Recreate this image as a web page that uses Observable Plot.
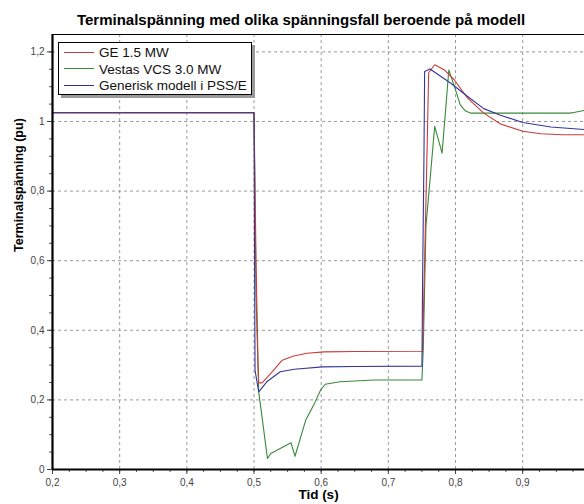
<!DOCTYPE html>
<html>
<head>
<meta charset="utf-8">
<script src="https://cdn.jsdelivr.net/npm/d3@7"></script>
<script src="https://cdn.jsdelivr.net/npm/@observablehq/plot@0.6"></script>
<style>
  html, body { margin: 0; padding: 0; background: #fff; }
  #wrap { position: relative; width: 584px; height: 504px; overflow: hidden; font-family: Arial, "Liberation Sans", sans-serif; }
  #title { position: absolute; left: 0; top: 10px; width: 584px; height: 20px; text-align: center; font-weight: bold; font-size: 15px; line-height: 20px; padding-left: 18px; box-sizing: border-box; color: #000; white-space: nowrap; }
  #chart { position: absolute; left: 0; top: 28px; }
  #legend { position: absolute; left: 58px; top: 42px; width: 192px; height: 51px; border: 1px solid #000; background: #fff; box-shadow: 3px 3px 0 #9a9a9a; font-size: 13.5px; }
  .row { position: absolute; left: 5px; height: 16px; line-height: 16px; white-space: nowrap; color: #111; }
  .sw { display: inline-block; width: 30px; height: 0; border-top: 1px solid; vertical-align: middle; margin-right: 5px; position: relative; top: -1px; }
</style>
</head>
<body>
<div id="wrap">
  <div id="title"></div>
  <div id="chart"></div>
  <div id="legend"></div>
</div>
<script>
const titleText = "Terminalspänning med olika spänningsfall beroende på modell";
const xLabel = "Tid (s)";
const yLabel = "Terminalspänning (pu)";

const seriesNames = ["GE 1.5 MW", "Vestas VCS 3.0 MW", "Generisk modell i PSS/E"];
const seriesColors = ["#cc3b3b", "#3a8a3a", "#35359a"];

const xTicks = [0.2, 0.3, 0.4, 0.5, 0.6, 0.7, 0.8, 0.9];
const yTicks = [0, 0.2, 0.4, 0.6, 0.8, 1.0, 1.2];
const xDomain = [0.2, 0.992];
const yDomain = [0, 1.25];

// GE 1.5 MW (red)
const timeGE = [0.2, 0.5, 0.503, 0.506, 0.507, 0.512, 0.525, 0.542, 0.559, 0.579, 0.604, 0.65, 0.751, 0.754, 0.758, 0.760, 0.769, 0.783, 0.798, 0.818, 0.842, 0.867, 0.9, 0.927, 0.96, 0.992];
const voltGE = [1.025, 1.025, 0.6, 0.3, 0.249, 0.249, 0.276, 0.314, 0.326, 0.334, 0.338, 0.339, 0.340, 0.6, 0.95, 1.14, 1.163, 1.149, 1.12, 1.067, 1.024, 0.993, 0.972, 0.965, 0.962, 0.962];

// Vestas VCS 3.0 MW (green)
const timeVestas = [0.2, 0.5, 0.503, 0.507, 0.520, 0.525, 0.555, 0.561, 0.577, 0.590, 0.599, 0.606, 0.628, 0.679, 0.750, 0.752, 0.756, 0.769, 0.780, 0.790, 0.800, 0.807, 0.815, 0.823, 0.9, 0.97, 0.976, 0.992];
const voltVestas = [1.025, 1.025, 0.5, 0.223, 0.032, 0.046, 0.077, 0.038, 0.142, 0.19, 0.228, 0.245, 0.252, 0.257, 0.257, 0.35, 0.70, 0.986, 0.909, 1.148, 1.091, 1.048, 1.03, 1.024, 1.024, 1.024, 1.026, 1.032];

// Generisk modell i PSS/E (blue)
const timeGen = [0.2, 0.5, 0.5015, 0.507, 0.519, 0.539, 0.56, 0.602, 0.65, 0.750, 0.751, 0.753, 0.754, 0.762, 0.793, 0.818, 0.842, 0.867, 0.9, 0.942, 0.992];
const voltGen = [1.025, 1.025, 0.285, 0.223, 0.252, 0.281, 0.288, 0.295, 0.296, 0.297, 0.55, 0.9, 1.144, 1.151, 1.110, 1.072, 1.037, 1.018, 0.997, 0.984, 0.977];

const minorX = d3.range(0.2, 0.992, 0.025).map(v => +v.toFixed(3));
const minorY = d3.range(0, 1.25, 0.05).map(v => +v.toFixed(2));

const fmt = d => String(+d.toFixed(2)).replace(".", ",");

function toRows(ts, vs, name) { return ts.map((t, i) => ({t, v: vs[i], name})); }
const dataGE = toRows(timeGE, voltGE, seriesNames[0]);
const dataVestas = toRows(timeVestas, voltVestas, seriesNames[1]);
const dataGen = toRows(timeGen, voltGen, seriesNames[2]);

document.getElementById("title").textContent = titleText;

const grid = {stroke: "#9a9a9a", strokeDasharray: "3,3", strokeWidth: 1, strokeOpacity: 1};

const chart = Plot.plot({
  width: 584,
  height: 476,
  marginLeft: 52,
  marginRight: 0,
  marginTop: 6,
  marginBottom: 35,
  style: {fontFamily: "Arial, 'Liberation Sans', sans-serif", background: "#fff", overflow: "visible"},
  x: {domain: xDomain},
  y: {domain: yDomain},
  marks: [
    Plot.ruleX(xTicks.slice(1), {...grid}),
    Plot.ruleY(yTicks.slice(1), {...grid}),
    Plot.axisX({ticks: minorX, tickSize: 3, tickFormat: () => "", label: null, stroke: "#555"}),
    Plot.axisY({ticks: minorY, tickSize: 3, tickFormat: () => "", label: null, stroke: "#555"}),
    Plot.axisX({ticks: xTicks, tickSize: 5, tickPadding: 4, tickFormat: fmt, label: null, fontSize: 10, color: "#444"}),
    Plot.axisY({ticks: yTicks, tickSize: 5, tickPadding: 3, tickFormat: fmt, label: null, fontSize: 10, color: "#444"}),
    Plot.line(dataVestas, {x: "t", y: "v", stroke: seriesColors[1], strokeWidth: 1.1}),
    Plot.line(dataGE, {x: "t", y: "v", stroke: seriesColors[0], strokeWidth: 1.1}),
    Plot.line(dataGen, {x: "t", y: "v", stroke: seriesColors[2], strokeWidth: 1.1}),
    Plot.ruleY([yDomain[1]], {stroke: "#000", strokeWidth: 1}),
    Plot.ruleX([xDomain[0]], {stroke: "#000", strokeWidth: 2.2}),
    Plot.ruleY([yDomain[0]], {stroke: "#000", strokeWidth: 2.2}),
    Plot.text([xLabel], {frameAnchor: "bottom", dy: 29, fontWeight: "bold", fontSize: 13.5, fill: "#000"}),
    Plot.text([yLabel], {frameAnchor: "left", dx: -34, rotate: -90, fontWeight: "bold", fontSize: 12.5, fill: "#000"})
  ]
});
document.getElementById("chart").appendChild(chart);

const legend = document.getElementById("legend");
seriesNames.forEach((name, i) => {
  const row = document.createElement("div");
  row.className = "row";
  row.style.top = (2 + i * 16.5) + "px";
  const sw = document.createElement("span");
  sw.className = "sw";
  sw.style.borderTopColor = seriesColors[i];
  row.appendChild(sw);
  row.appendChild(document.createTextNode(name));
  legend.appendChild(row);
});
</script>
</body>
</html>
